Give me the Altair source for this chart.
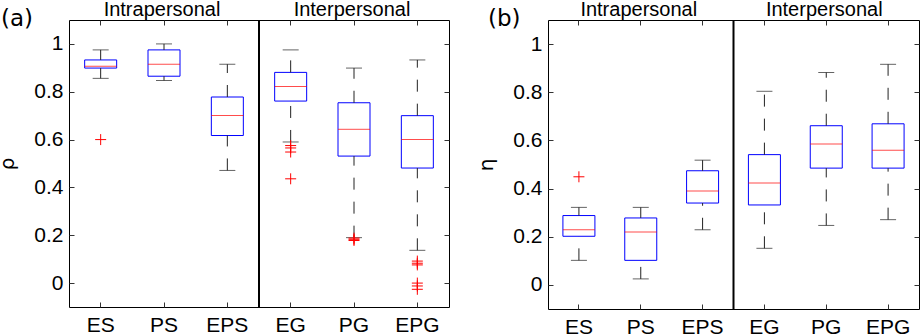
import altair as alt
import pandas as pd

# ---------------- data ----------------
intra = ["ES", "PS", "EPS"]
inter = ["EG", "PG", "EPG"]
cats = intra + inter
group_names = ["Intrapersonal", "Interpersonal"]
panel_tags = ["(a)", "(b)"]
y_titles = ["ρ", "η"]
y_ticks = [0, 0.2, 0.4, 0.6, 0.8, 1]

# Panel (a): rho
a_lower = [0.856, 0.847, 0.471, 0.590, 0.190, 0.137]
a_q1 = [0.899, 0.865, 0.617, 0.761, 0.531, 0.481]
a_med = [0.907, 0.915, 0.701, 0.822, 0.643, 0.600]
a_q3 = [0.933, 0.975, 0.778, 0.881, 0.754, 0.700]
a_upper = [0.975, 1.000, 0.915, 0.975, 0.899, 0.933]
a_out_cat = ["ES", "EG", "EG", "EG", "EG", "PG", "PG", "PG",
             "EPG", "EPG", "EPG", "EPG", "EPG", "EPG"]
a_out_val = [0.600, 0.575, 0.565, 0.548, 0.436, 0.188, 0.183, 0.178,
             0.092, 0.083, 0.076, 0.000, -0.012, -0.026]

# Panel (b): eta
b_lower = [0.102, 0.025, 0.229, 0.152, 0.247, 0.271]
b_q1 = [0.202, 0.102, 0.340, 0.332, 0.485, 0.485]
b_med = [0.229, 0.220, 0.390, 0.423, 0.585, 0.559]
b_q3 = [0.288, 0.278, 0.474, 0.541, 0.661, 0.669]
b_upper = [0.322, 0.322, 0.518, 0.804, 0.882, 0.916]
b_out_cat = ["ES"]
b_out_val = [0.449]

FONT = "Liberation Sans"
TAGFONT = "DejaVu Sans"


def make_panel(i, lower, q1, med, q3, upper, out_cat, out_val, w, h, tag_x):
    stats = pd.DataFrame(dict(cat=cats, lower=lower, q1=q1, med=med, q3=q3, upper=upper))
    outl = pd.DataFrame(dict(cat=out_cat, val=out_val))
    hdr = pd.DataFrame(dict(cat=[intra[len(intra) // 2], inter[len(inter) // 2]],
                            label=group_names))
    div = pd.DataFrame(dict(cat=[inter[0]]))
    tag = pd.DataFrame(dict(label=[panel_tags[i]]))

    xs = alt.Scale(domain=cats, paddingInner=0, paddingOuter=0)
    ys = alt.Scale(domain=[-0.1, 1.1], nice=False, zero=False)

    bottom_axis = alt.Axis(orient="bottom", offset=-5, tickSize=5, domain=False, grid=False,
                           labelAngle=0, labelFontSize=21, labelFont=FONT, labelColor="black",
                           labelPadding=7, tickColor="#333")
    left_axis = alt.Axis(orient="left", offset=-5, tickSize=5, domain=False, grid=False,
                         values=y_ticks, format="~g", labelFontSize=21, labelFont=FONT,
                         labelColor="black", labelPadding=6, tickColor="#333",
                         title=y_titles[i], titleFont=TAGFONT, titleFontSize=20,
                         titleFontWeight="normal", titleColor="black", titlePadding=16)
    top_axis = alt.Axis(orient="top", offset=-5, tickSize=5, domain=False, grid=False,
                        labels=False, tickColor="#333", title=None)
    right_axis = alt.Axis(orient="right", offset=-5, tickSize=5, domain=False, grid=False,
                          values=y_ticks, labels=False, tickColor="#333", title=None)

    def X(axis=None):
        return alt.X("cat:N", scale=xs, axis=axis, title=None, sort=cats)

    def Y(field, axis=None):
        if axis is None:
            return alt.Y(field, type="quantitative", scale=ys, axis=None, title=None)
        return alt.Y(field, type="quantitative", scale=ys, axis=axis)

    box = alt.Chart(stats).mark_bar(width=32, fillOpacity=0, stroke="#0000ff", strokeWidth=1).encode(
        x=X(bottom_axis), y=Y("q1", left_axis), y2="q3")
    wlo = alt.Chart(stats).mark_rule(strokeDash=[12, 12], color="#222", strokeWidth=1).encode(
        x=X(), y=Y("lower"), y2="q1")
    whi = alt.Chart(stats).mark_rule(strokeDash=[12, 12], color="#222", strokeWidth=1).encode(
        x=X(), y=Y("q3"), y2="upper")
    clo = alt.Chart(stats).mark_tick(size=16, thickness=1, color="#222").encode(
        x=X(), y=Y("lower"))
    chi = alt.Chart(stats).mark_tick(size=16, thickness=1, color="#222").encode(
        x=X(), y=Y("upper"))
    medl = alt.Chart(stats).mark_tick(size=32, thickness=1, color="#ff0000").encode(
        x=X(top_axis), y=Y("med", right_axis))
    outs = alt.Chart(outl).mark_point(shape="M-1,0L1,0M0,-1L0,1", filled=False,
                                      stroke="#ff0000", strokeWidth=1, size=121,
                                      opacity=1).encode(x=X(), y=Y("val"))
    divider = alt.Chart(div).mark_rule(color="black", strokeWidth=2).encode(
        x=alt.X("cat:N", scale=xs, axis=None, bandPosition=0, sort=cats))
    headers = alt.Chart(hdr).mark_text(font=FONT, fontSize=20, baseline="alphabetic",
                                       color="black", dx=-2).encode(
        x=X(), y=alt.value(-4), text="label:N")
    tagt = alt.Chart(tag).mark_text(font=TAGFONT, fontSize=23, align="left",
                                    baseline="alphabetic", color="black").encode(
        x=alt.value(tag_x), y=alt.value(6), text="label:N")

    return alt.layer(box, wlo, whi, clo, chi, medl, outs, divider, headers, tagt).resolve_axis(
        x="independent", y="independent").properties(width=w, height=h)


pa = make_panel(0, a_lower, a_q1, a_med, a_q3, a_upper, a_out_cat, a_out_val, 380, 287, -68)
pb = make_panel(1, b_lower, b_q1, b_med, b_q3, b_upper, b_out_cat, b_out_val, 371, 289, -60)

chart = alt.hconcat(pa, pb, spacing=99, bounds="flush").properties(
    padding={"left": -3, "top": -1, "right": 0, "bottom": 0}
).configure_view(stroke="black", strokeWidth=1)

chart.save("out.html", embed_options={"renderer": "svg", "actions": False})
